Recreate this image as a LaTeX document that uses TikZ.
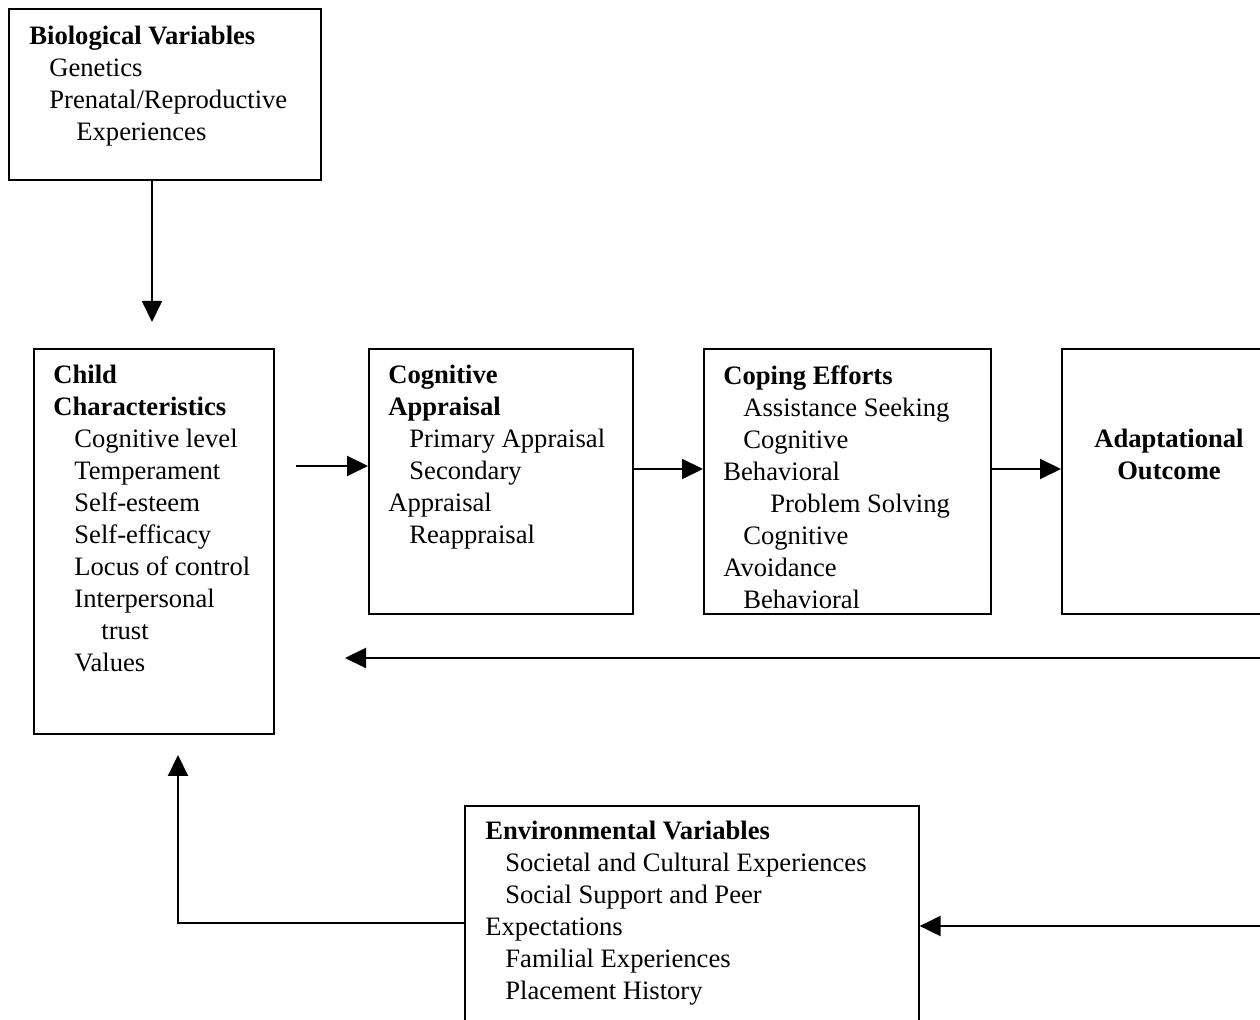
\documentclass[tikz,border=0pt]{standalone}
\usepackage{fontspec}
\setmainfont{Liberation Serif}
\usetikzlibrary{arrows.meta}
\begin{document}
\begin{tikzpicture}[x=0.5pt,y=-0.5pt,
  box/.style={draw,line width=0.8pt,rectangle,inner sep=0pt,anchor=north west},
  txt/.style={anchor=north west,inner sep=0pt,align=left,font=\fontsize{13.3}{16}\selectfont},
  arr/.style={line width=1pt,-{Triangle[length=10.5pt,width=10pt]}},
  ln/.style={line width=1pt}]
\clip (0,0) rectangle (1260,1020);
% boxes
\node[box,minimum width=156pt,minimum height=85.5pt] (bio) at (8,8) {};
\node[box,minimum width=120pt,minimum height=192.5pt] (child) at (33,348) {};
\node[box,minimum width=132pt,minimum height=132.5pt] (cog) at (368,348) {};
\node[box,minimum width=143.5pt,minimum height=132.5pt] (cope) at (703,348) {};
\node[box,minimum width=108pt,minimum height=132.5pt] (adapt) at (1061,348) {};
\node[box,minimum width=227pt,minimum height=117.5pt] (env) at (464,805) {};
% texts
\node[txt] (biot) at (29,26) {\textbf{Biological Variables}\\
\hspace*{10pt}Genetics\\
\hspace*{10pt}Prenatal/Reproductive\\
\hspace*{23.5pt}Experiences};
\node[txt] (childt) at (53,365) {\textbf{Child}\\
\textbf{Characteristics}\\
\hspace*{10.5pt}Cognitive level\\
\hspace*{10.5pt}Temperament\\
\hspace*{10.5pt}Self-esteem\\
\hspace*{10.5pt}Self-efficacy\\
\hspace*{10.5pt}Locus of control\\
\hspace*{10.5pt}Interpersonal\\
\hspace*{24pt}trust\\
\hspace*{10.5pt}Values};
\node[txt] (cogt) at (388,365) {\textbf{Cognitive}\\
\textbf{Appraisal}\\
\hspace*{10.5pt}Primary Appraisal\\
\hspace*{10.5pt}Secondary\\
Appraisal\\
\hspace*{10.5pt}Reappraisal};
\node[txt] (copet) at (723,365) {\textbf{Coping Efforts}\\
\hspace*{10pt}Assistance Seeking\\
\hspace*{10pt}Cognitive\\
Behavioral\\
\hspace*{23.5pt}Problem Solving\\
\hspace*{10pt}Cognitive\\
Avoidance\\
\hspace*{10pt}Behavioral};
\node[txt,anchor=center,align=center] (adaptt) at (1169,454) {\textbf{Adaptational}\\\textbf{Outcome}};
\node[txt] (envt) at (485,821) {\textbf{Environmental Variables}\\
\hspace*{10pt}Societal and Cultural Experiences\\
\hspace*{10pt}Social Support and Peer\\
Expectations\\
\hspace*{10pt}Familial Experiences\\
\hspace*{10pt}Placement History};
% coordinates
\coordinate (bioend) at (152,322);
\coordinate (cstart) at (296,466);
\coordinate (row) at (0,469);
\coordinate (fbstart) at (1262,658);
\coordinate (fbend) at (345,658);
\coordinate (envin) at (1262,926);
\coordinate (envrow) at (0,923);
\coordinate (upend) at (178,755);
% connectors
\draw[arr] (bioend |- bio.south) -- (bioend);
\draw[arr] (cstart) -- (cstart -| cog.west);
\draw[arr] (cog.east |- row) -- (cope.west |- row);
\draw[arr] (cope.east |- row) -- (adapt.west |- row);
\draw[arr] (fbstart) -- (fbend);
\draw[arr] (envin) -- (envin -| env.east);
\draw[arr] (env.west |- envrow) -- (upend |- envrow) -- (upend);
\end{tikzpicture}
\end{document}
